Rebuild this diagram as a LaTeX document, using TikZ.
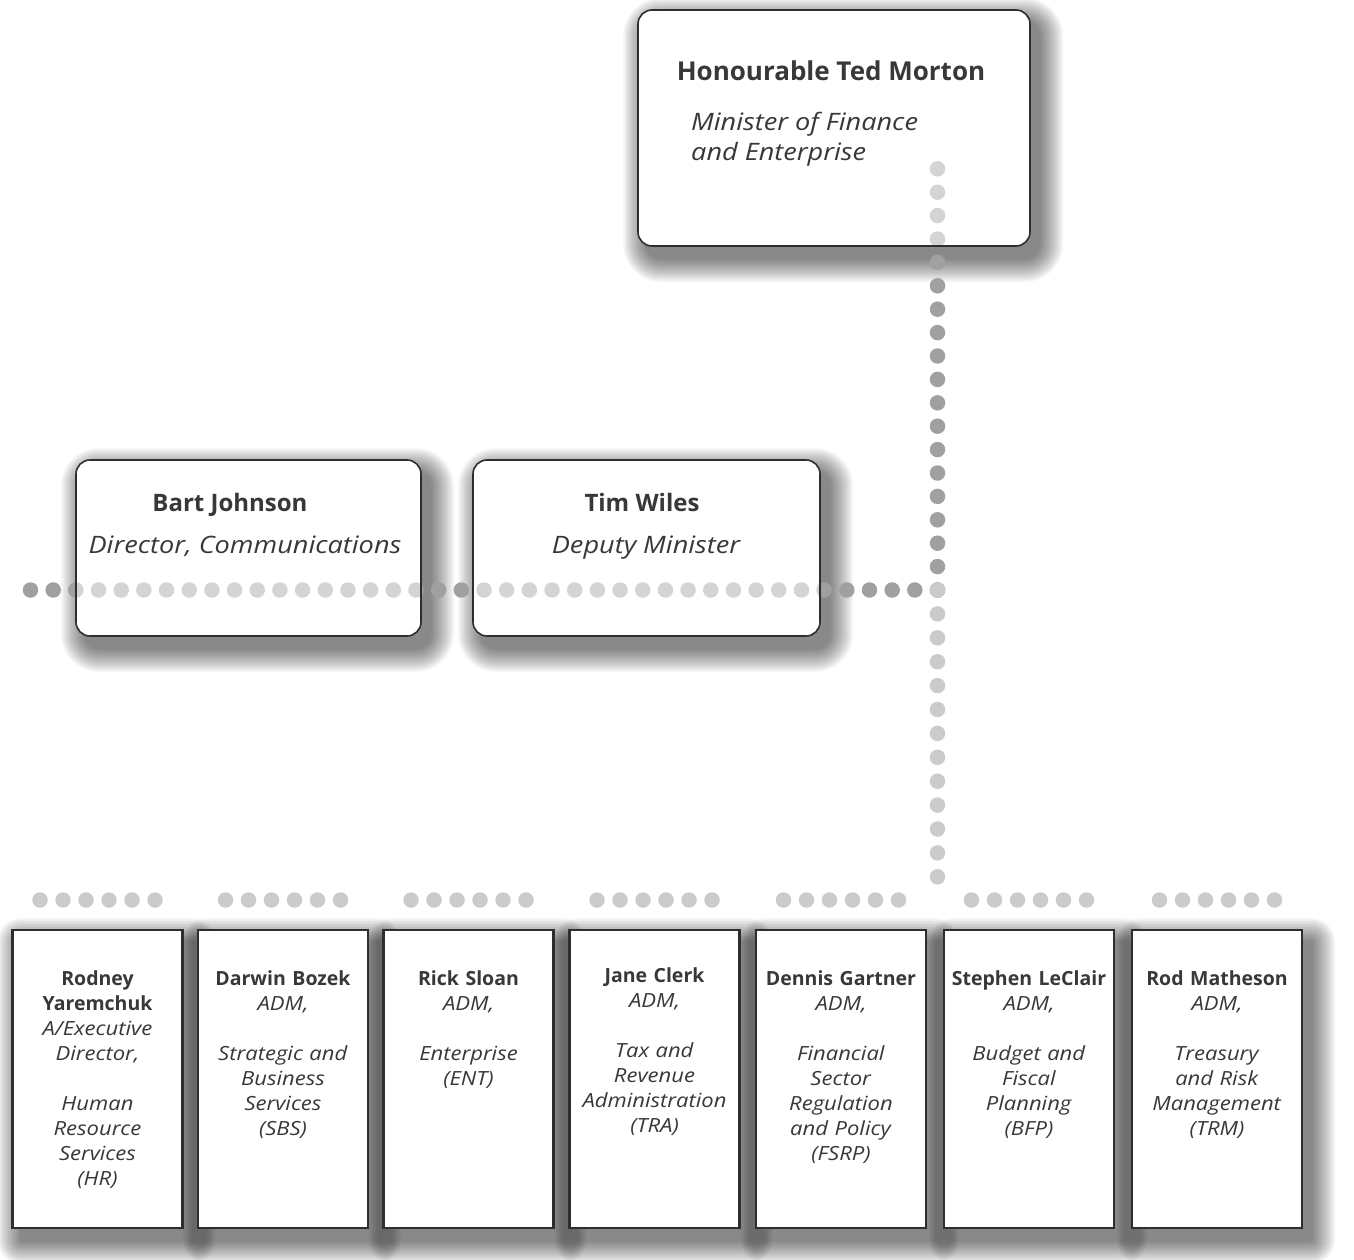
\documentclass[tikz,border=0pt]{standalone}
\usepackage{fontspec}
\setmainfont{Open Sans}[ItalicFeatures={FakeStretch=1.13}]
\usetikzlibrary{calc}
\pgfdeclarelayer{bg}
\pgfsetlayers{bg,main}
\definecolor{ink}{HTML}{383838}
\definecolor{edge}{HTML}{2E2E2E}
\definecolor{dotdark}{HTML}{A0A0A0}
\definecolor{dotlight}{HTML}{CBCBCB}
\newcommand\softshadow[2]{%
  \foreach \k in {0,...,15}{%
    \pgfmathsetmacro\e{24-1.5*\k}%
    \pgfmathsetmacro\ax{9-\e}\pgfmathsetmacro\ay{-12-\e}%
    \pgfmathsetmacro\bx{9+\e}\pgfmathsetmacro\by{-12+\e}%
    \pgfmathsetmacro\rr{#2+\e}%
    \fill[black,opacity=0.035,rounded corners=\rr pt]
      ([xshift=\ax pt,yshift=\ay pt]#1.south west) rectangle
      ([xshift=\bx pt,yshift=\by pt]#1.north east);
  }%
}
\tikzset{
  rbox/.style={rectangle,inner sep=0pt,outer sep=0pt},
  sbox/.style={rectangle,inner sep=0pt,outer sep=0pt,minimum width=170pt,minimum height=298pt},
  dotline/.style={line width=15.5pt,line cap=round,dash pattern=on 0pt off #1},
  bignm/.style={text=ink,inner sep=0pt,font=\fontsize{26}{30}\selectfont\bfseries},
  nm/.style={text=ink,inner sep=0pt,font=\fontsize{24}{30}\selectfont\bfseries},
  tt/.style={text=ink,inner sep=0pt,font=\fontsize{24}{30}\selectfont\itshape},
  btxt/.style={text=ink,inner sep=0pt,align=center,text width=168pt,font=\fontsize{19.5}{25}\selectfont},
}
\begin{document}
\begin{tikzpicture}[x=1pt,y=-1pt]
\useasboundingbox (0,0) rectangle (1354,1260);

% boxes (shapes only)
\node[rbox,minimum width=392pt,minimum height=236pt] (min) at (834,128) {};
\node[rbox,minimum width=345pt,minimum height=176pt] (bart) at (248.5,548) {};
\node[rbox,minimum width=347pt,minimum height=176pt] (tim) at (646.5,548) {};
\node[sbox] (b1) at (97.5,1079) {};
\node[sbox] (b2) at (283,1079) {};
\node[sbox] (b3) at (468.5,1079) {};
\node[sbox] (b4) at (654.5,1079) {};
\node[sbox] (b5) at (841,1079) {};
\node[sbox] (b6) at (1029,1079) {};
\node[sbox] (b7) at (1217,1079) {};

\coordinate (vtop) at (937.5,168.6);
\coordinate (junc) at (937.5,590);
\coordinate (vbot) at (937.5,877.3);
\coordinate (hend) at (29.8,590);

\begin{pgfonlayer}{bg}
  \fill[white] (0,0) rectangle (1354,1260);
  \foreach \n in {min,bart,tim} {\softshadow{\n}{14}}
  \foreach \n in {b1,b2,b3,b4,b5,b6,b7} {\softshadow{\n}{0}}
  \foreach \n in {min,bart,tim}
    \fill[white,rounded corners=14pt] (\n.south west) rectangle (\n.north east);
  \foreach \n in {b1,b2,b3,b4,b5,b6,b7}
    \fill[white] (\n.south west) rectangle (\n.north east);
  % dotted connectors
  \draw[dotline=23.4pt,draw=dotdark] (junc) -- (vtop);
  \draw[dotline=22.675pt,draw=dotdark] (junc) -- (hend);
  \draw[dotline=23.9pt,draw=dotlight] (junc) -- (vbot);
  \foreach \n in {b1,b2,b3,b4,b5,b6,b7}
    \draw[dotline=23pt,draw=dotlight] ([shift={(-57.5pt,30pt)}]\n.north) -- ([shift={(57.6pt,30pt)}]\n.north);
  % veil over dots inside the rounded boxes
  \foreach \n in {min,bart,tim}
    \fill[white,opacity=0.55,rounded corners=14pt] (\n.south west) rectangle (\n.north east);
  % borders
  \foreach \n in {min,bart,tim}
    \draw[edge,line width=1.6pt,rounded corners=14pt] (\n.south west) rectangle (\n.north east);
  \foreach \n in {b1,b2,b3,b4,b5,b6,b7}
    \draw[edge,line width=2.8pt] (\n.south west) rectangle (\n.north east);
\end{pgfonlayer}

% texts
\node[bignm,anchor=base] (min-n) at (831,81) {Honourable Ted Morton};
\node[tt,anchor=base west] (min-t1) at (691,131) {Minister of Finance};
\node[tt,anchor=base west] (min-t2) at (691,161) {and Enterprise};
\node[nm,anchor=base] (bart-n) at (230,511) {Bart Johnson};
\node[tt,anchor=base] (bart-t) at (245,553) {Director, Communications};
\node[nm,anchor=base] (tim-n) at (642,511) {Tim Wiles};
\node[tt,anchor=base] (tim-t) at (646,553) {Deputy Minister};

\node[btxt,anchor=north] (b1-t) at (97.5,970) {\textbf{Rodney}\\\textbf{Yaremchuk}\\\textit{A/Executive}\\\textit{Director,}\\[25pt]\textit{Human}\\\textit{Resource}\\\textit{Services}\\\textit{(HR)}};
\node[btxt,anchor=north] (b2-t) at (283,970) {\textbf{Darwin Bozek}\\\textit{ADM,}\\[25pt]\textit{Strategic and}\\\textit{Business}\\\textit{Services}\\\textit{(SBS)}};
\node[btxt,anchor=north] (b3-t) at (468.5,970) {\textbf{Rick Sloan}\\\textit{ADM,}\\[25pt]\textit{Enterprise}\\\textit{(ENT)}};
\node[btxt,anchor=north] (b4-t) at (654.5,967) {\textbf{Jane Clerk}\\\textit{ADM,}\\[25pt]\textit{Tax and}\\\textit{Revenue}\\\textit{Administration}\\\textit{(TRA)}};
\node[btxt,anchor=north] (b5-t) at (841,970) {\textbf{Dennis Gartner}\\\textit{ADM,}\\[25pt]\textit{Financial}\\\textit{Sector}\\\textit{Regulation}\\\textit{and Policy}\\\textit{(FSRP)}};
\node[btxt,anchor=north] (b6-t) at (1029,970) {\textbf{Stephen LeClair}\\\textit{ADM,}\\[25pt]\textit{Budget and}\\\textit{Fiscal}\\\textit{Planning}\\\textit{(BFP)}};
\node[btxt,anchor=north] (b7-t) at (1217,970) {\textbf{Rod Matheson}\\\textit{ADM,}\\[25pt]\textit{Treasury}\\\textit{and Risk}\\\textit{Management}\\\textit{(TRM)}};
\end{tikzpicture}
\end{document}
